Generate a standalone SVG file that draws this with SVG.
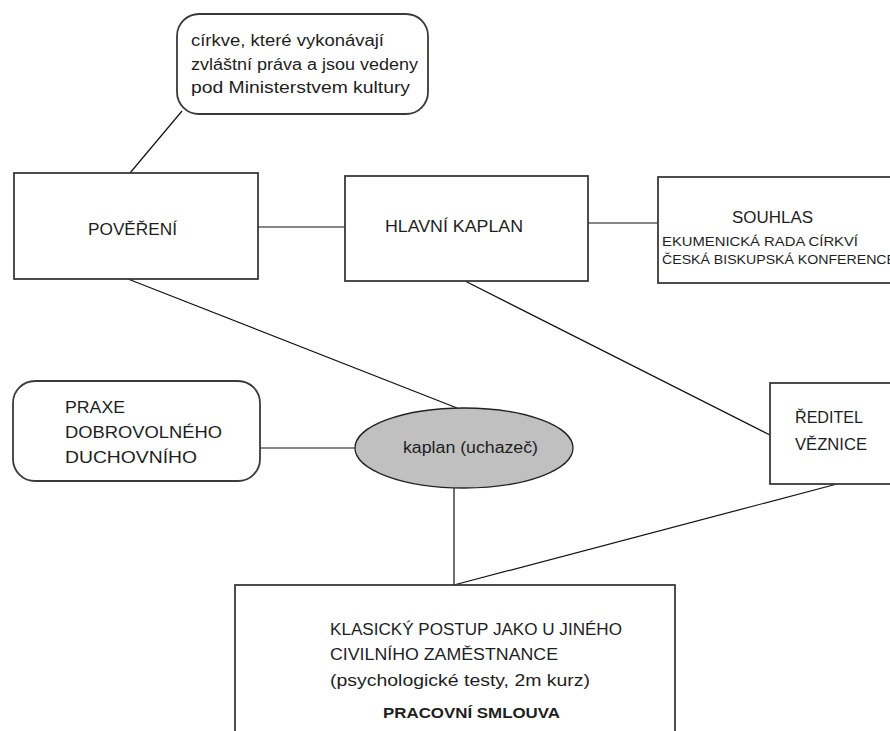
<svg xmlns="http://www.w3.org/2000/svg" width="890" height="731" viewBox="0 0 890 731">
<style>
.box{fill:#fff;stroke:#3a3a3a;stroke-width:1.8}
.ell{fill:#c0c0c0;stroke:#222;stroke-width:1.3}
.con{stroke:#111;stroke-width:1.2;fill:none}
text{font-family:"Liberation Sans",Arial,sans-serif;font-size:16px;fill:#1e1e1e}
.sm{font-size:13.5px}
.b{font-weight:bold;font-size:14.5px}
</style>
<rect width="890" height="731" fill="#fff"/>
<g id="connectors">
<line class="con" x1="182" y1="111" x2="130" y2="173"/>
<line class="con" x1="258" y1="227" x2="345" y2="227"/>
<line class="con" x1="588" y1="223" x2="658" y2="223"/>
<line class="con" x1="128" y1="279" x2="457" y2="408"/>
<line class="con" x1="465" y1="281" x2="770" y2="435"/>
<line class="con" x1="260" y1="448" x2="355" y2="448"/>
<line class="con" x1="454" y1="488" x2="454" y2="585"/>
<line class="con" x1="837" y1="484" x2="454" y2="585"/>
</g>
<g id="note">
<rect class="box" x="177" y="14" width="251" height="100" rx="22"/>
<text x="191" y="46" textLength="193" lengthAdjust="spacingAndGlyphs">církve, které vykonávají</text>
<text x="191" y="70" textLength="227" lengthAdjust="spacingAndGlyphs">zvláštní práva a jsou vedeny</text>
<text x="191" y="93" textLength="219" lengthAdjust="spacingAndGlyphs">pod Ministerstvem kultury</text>
</g>
<g id="povereni">
<rect class="box" x="14" y="173" width="244" height="106"/>
<text x="88" y="235" textLength="89" lengthAdjust="spacingAndGlyphs">POVĚŘENÍ</text>
</g>
<g id="hlavni-kaplan">
<rect class="box" x="345" y="176" width="243" height="105"/>
<text x="385" y="232" textLength="138" lengthAdjust="spacingAndGlyphs">HLAVNÍ KAPLAN</text>
</g>
<g id="souhlas">
<rect class="box" x="658" y="177" width="240" height="106"/>
<text x="732" y="223" textLength="81" lengthAdjust="spacingAndGlyphs">SOUHLAS</text>
<text class="sm" x="662" y="246" textLength="196" lengthAdjust="spacingAndGlyphs">EKUMENICKÁ RADA CÍRKVÍ</text>
<text class="sm" x="662" y="264" textLength="234" lengthAdjust="spacingAndGlyphs">ČESKÁ BISKUPSKÁ KONFERENCE</text>
</g>
<g id="praxe">
<rect class="box" x="13" y="381" width="247" height="100" rx="22"/>
<text x="65" y="413" textLength="60" lengthAdjust="spacingAndGlyphs">PRAXE</text>
<text x="65" y="438" textLength="157" lengthAdjust="spacingAndGlyphs">DOBROVOLNÉHO</text>
<text x="65" y="463" textLength="132" lengthAdjust="spacingAndGlyphs">DUCHOVNÍHO</text>
</g>
<g id="kaplan">
<ellipse class="ell" cx="464" cy="448" rx="109" ry="40"/>
<text x="403" y="453" textLength="135" lengthAdjust="spacingAndGlyphs">kaplan (uchazeč)</text>
</g>
<g id="reditel">
<rect class="box" x="770" y="383" width="130" height="101"/>
<text x="795" y="423" textLength="68" lengthAdjust="spacingAndGlyphs">ŘEDITEL</text>
<text x="795" y="450" textLength="72" lengthAdjust="spacingAndGlyphs">VĚZNICE</text>
</g>
<g id="postup">
<rect class="box" x="235" y="585" width="440" height="160"/>
<text x="330" y="635" textLength="292" lengthAdjust="spacingAndGlyphs">KLASICKÝ POSTUP JAKO U JINÉHO</text>
<text x="330" y="660" textLength="228" lengthAdjust="spacingAndGlyphs">CIVILNÍHO ZAMĚSTNANCE</text>
<text x="330" y="686" textLength="260" lengthAdjust="spacingAndGlyphs">(psychologické testy, 2m kurz)</text>
<text class="b" x="383" y="718" textLength="177" lengthAdjust="spacingAndGlyphs">PRACOVNÍ SMLOUVA</text>
</g>
</svg>
